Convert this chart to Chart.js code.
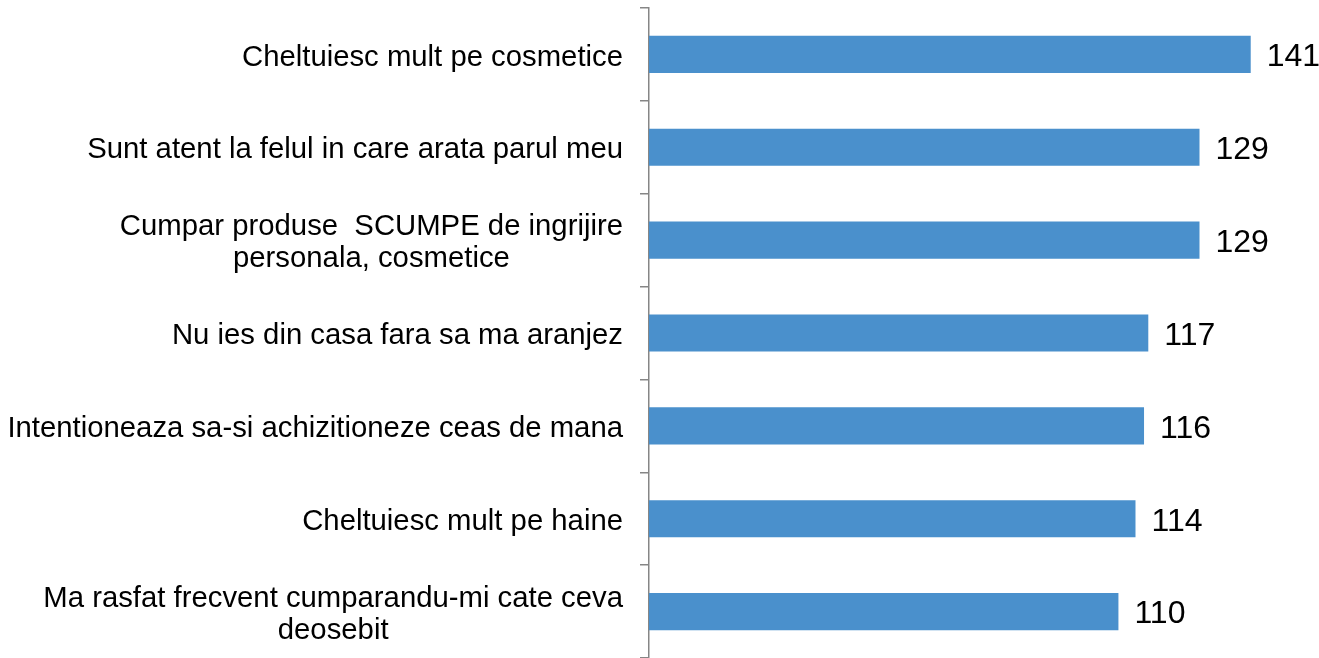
<!DOCTYPE html>
<html>
<head>
<meta charset="utf-8">
<script src="https://cdn.jsdelivr.net/npm/chart.js@4/dist/chart.umd.min.js"></script>
<style>
  html, body { margin: 0; padding: 0; background: #ffffff; }
  #wrap { position: relative; width: 1319px; height: 658px; }
</style>
</head>
<body>
<div id="wrap"><canvas id="c"></canvas></div>
<script>
const categories = [
  ["Cheltuiesc mult pe cosmetice"],
  ["Sunt atent la felul in care arata parul meu"],
  ["Cumpar produse  SCUMPE de ingrijire", "personala, cosmetice"],
  ["Nu ies din casa fara sa ma aranjez"],
  ["Intentioneaza sa-si achizitioneze ceas de mana"],
  ["Cheltuiesc mult pe haine"],
  ["Ma rasfat frecvent cumparandu-mi cate ceva", "deosebit"]
];
const values = [141, 129, 129, 117, 116, 114, 110];

const LABEL_FONT = "29.3px 'Liberation Sans', Arial, sans-serif";
const VALUE_FONT = "32px 'Liberation Sans', Arial, sans-serif";

const labelPlugin = {
  id: 'labels',
  afterDraw(chart) {
    const ctx = chart.ctx;
    const yScale = chart.scales.y;
    const area = chart.chartArea;
    ctx.save();
    ctx.font = LABEL_FONT;
    ctx.fillStyle = '#000000';
    ctx.textBaseline = 'middle';
    ctx.textAlign = 'center';
    const lineH = 32;
    const right = area.left - 26;
    categories.forEach((lines, i) => {
      const yc = yScale.getPixelForValue(i) + 3;
      let w = 0;
      lines.forEach(l => { w = Math.max(w, ctx.measureText(l).width); });
      const cx = right - w / 2;
      const y0 = yc - (lines.length - 1) * lineH / 2;
      lines.forEach((l, k) => ctx.fillText(l, cx, y0 + k * lineH));
    });
    // data labels
    ctx.font = VALUE_FONT;
    ctx.textAlign = 'left';
    const meta = chart.getDatasetMeta(0);
    meta.data.forEach((bar, i) => {
      ctx.fillText(String(values[i]), bar.x + 16, bar.y + 3);
    });
    ctx.restore();
  }
};

new Chart(document.getElementById('c'), {
  type: 'bar',
  data: {
    labels: categories,
    datasets: [{
      data: values,
      backgroundColor: '#4A90CC',
      borderWidth: 0,
      barPercentage: 0.4,
      categoryPercentage: 1.0
    }]
  },
  options: {
    indexAxis: 'y',
    responsive: true,
    maintainAspectRatio: false,
    animation: false,
    layout: { padding: { top: 8, bottom: 0, left: 0, right: 0 } },
    plugins: { legend: { display: false }, tooltip: { enabled: false } },
    scales: {
      x: {
        display: false,
        min: 0,
        max: 157
      },
      y: {
        type: 'category',
        offset: true,
        ticks: { display: false },
        grid: {
          offset: true,
          drawOnChartArea: false,
          drawTicks: true,
          tickLength: 9,
          color: '#868686',
          lineWidth: 1.5
        },
        border: { display: true, color: '#868686', width: 1.5 },
        afterFit(scale) {
          scale.width = 649;
          scale.paddingTop = 0;
          scale.paddingBottom = 0;
        }
      }
    }
  },
  plugins: [labelPlugin]
});
</script>
</body>
</html>
